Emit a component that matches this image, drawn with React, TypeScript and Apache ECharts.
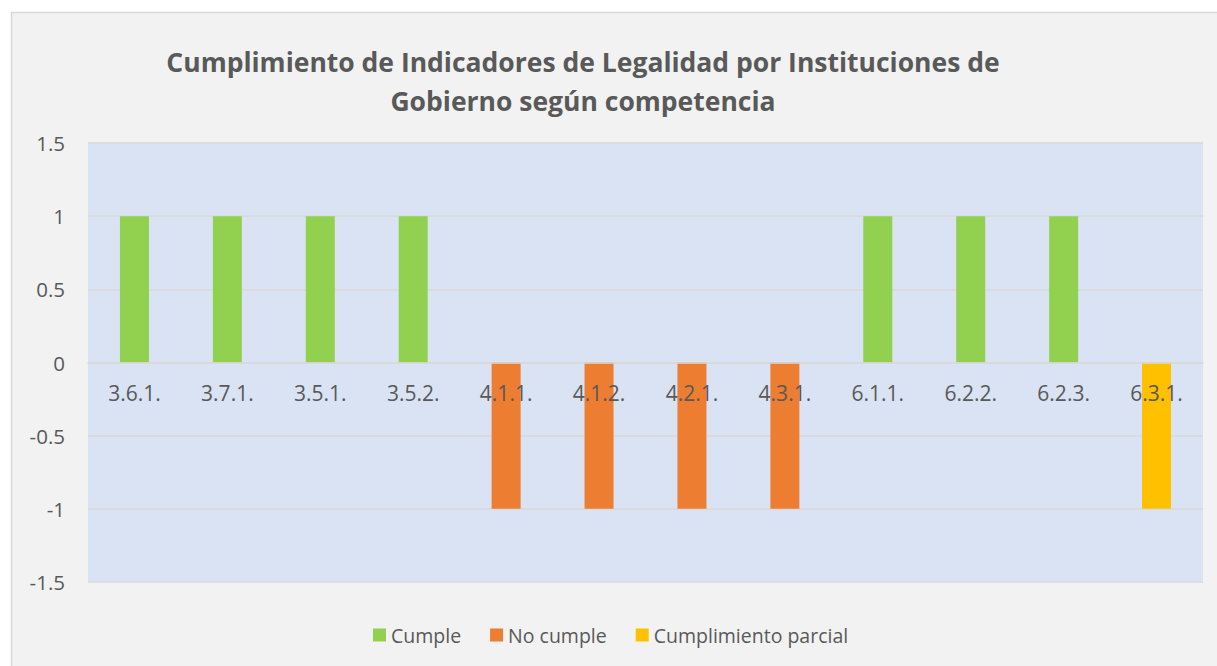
import React, { useEffect, useRef } from "react";
import * as echarts from "echarts";

const categories = ["3.6.1.", "3.7.1.", "3.5.1.", "3.5.2.", "4.1.1.", "4.1.2.", "4.2.1.", "4.3.1.", "6.1.1.", "6.2.2.", "6.2.3.", "6.3.1."];
const cumple = [1, 1, 1, 1, "-", "-", "-", "-", 1, 1, 1, "-"];
const noCumple = ["-", "-", "-", "-", -1, -1, -1, -1, "-", "-", "-", "-"];
const parcial = ["-", "-", "-", "-", "-", "-", "-", "-", "-", "-", "-", -1];
const seriesNames = ["Cumple", "No cumple", "Cumplimiento parcial"];
const colors = ["#92d050", "#ed7d31", "#ffc000"];
const titleLines = ["Cumplimiento de Indicadores de Legalidad por Instituciones de", "Gobierno según competencia"];

export default function App() {
  const ref = useRef<HTMLDivElement>(null);
  useEffect(() => {
    const chart = echarts.init(ref.current!, null, { renderer: "svg" });
    const font = "'Open Sans', sans-serif";
    chart.setOption({
      animation: false,
      backgroundColor: "#ffffff",
      graphic: [
        {
          type: "rect",
          z: -10,
          shape: { x: 11.5, y: 12.5, width: 1230, height: 700 },
          style: { fill: "#f2f2f2", stroke: "#d9d9d9", lineWidth: 1.5 },
        },
      ],
      title: {
        text: titleLines.join("\n"),
        left: 578,
        textAlign: "center",
        top: 37,
        textStyle: { fontFamily: font, fontSize: 26.5, fontWeight: "bold", color: "#595959", lineHeight: 39 },
      },
      legend: {
        left: 368,
        top: 620,
        itemWidth: 13,
        itemHeight: 13,
        itemGap: 29,
        icon: "rect",
        textStyle: { fontFamily: font, fontSize: 19.5, color: "#595959" },
        data: seriesNames,
      },
      grid: {
        left: 88,
        right: 14,
        top: 143,
        bottom: 84,
        show: true,
        backgroundColor: "#dae3f3",
        borderWidth: 0,
      },
      xAxis: {
        type: "category",
        data: categories,
        z: 5,
        offset: -219.5,
        axisLine: { show: true, onZero: false, lineStyle: { color: "#d9d9d9", width: 1.5 } },
        axisTick: { show: false },
        axisLabel: { margin: 20, fontFamily: font, fontSize: 21, color: "#595959" },
      },
      yAxis: {
        type: "value",
        min: -1.5,
        max: 1.5,
        interval: 0.5,
        axisLine: { show: false },
        axisTick: { show: false },
        splitLine: { lineStyle: { color: "#d9d9d9", width: 1.5 } },
        axisLabel: { margin: 23, fontFamily: font, fontSize: 20.5, color: "#595959" },
      },
      series: [cumple, noCumple, parcial].map((d, i) => ({
        name: seriesNames[i],
        type: "bar",
        stack: "s",
        data: d,
        barWidth: 29,
        itemStyle: { color: colors[i] },
      })),
    });
    return () => chart.dispose();
  }, []);
  return (
    <div style={{ position: "fixed", left: 0, top: 0, width: 1217, height: 666 }}>
      <div ref={ref} style={{ width: 1217, height: 666 }} />
    </div>
  );
}
